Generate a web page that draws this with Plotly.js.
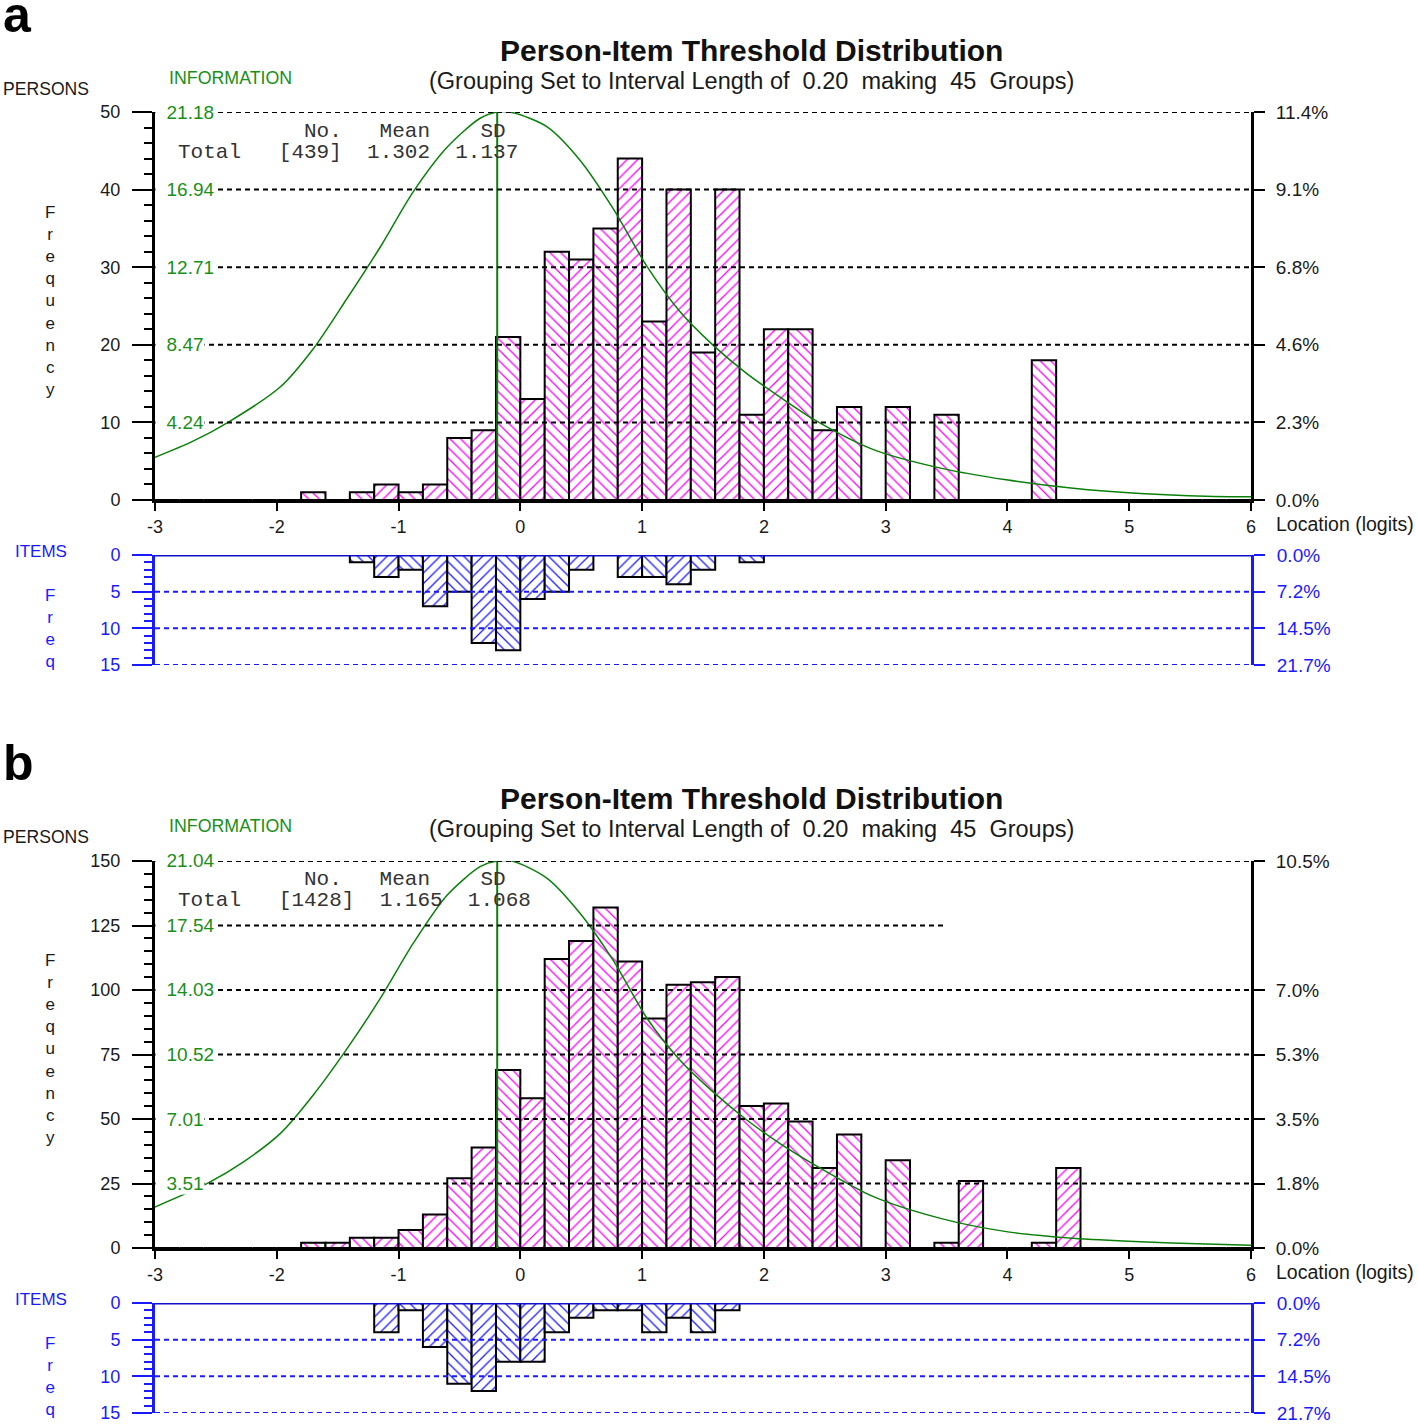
<!DOCTYPE html>
<html><head><meta charset="utf-8">
<script src="https://cdn.plot.ly/plotly-3.0.1.min.js"></script>
<style>body{margin:0;background:#fff}#chart{width:1418px;height:1425px}</style>
</head><body><div id="chart"></div>
<script>
// ---------------- DATA ----------------
const bins = [-3.0,-2.8,-2.6,-2.4,-2.2,-2.0,-1.8,-1.6,-1.4,-1.2,-1.0,-0.8,-0.6,-0.4,-0.2,0.0,0.2,0.4,0.6,0.8,1.0,1.2,1.4,1.6,1.8,2.0,2.2,2.4,2.6,2.8,3.0,3.2,3.4,3.6,3.8,4.0,4.2,4.4,4.6,4.8,5.0,5.2,5.4,5.6,5.8];
const xTicks = [-3,-2,-1,0,1,2,3,4,5,6];

// panel a
const personsA = [0,0,0,0,0,0,1,0,1,2, 1,2,8,9,21,13,32,31,35,44, 23,40,19,40,11,22,22,9,12,0, 12,0,11,0,0,0,18,0,0,0, 0,0,0,0,0];
const itemsA   = [0,0,0,0,0,0,0,0,1,3, 2,7,5,12,13,6,5,2,0,3, 3,4,2,0,1,0,0,0,0,0, 0,0,0,0,0,0,0,0,0,0, 0,0,0,0,0];
const infoXA = [-3.0,-2.7,-2.4,-1.97,-1.7,-1.43,-1.15,-0.88,-0.6,-0.33,-0.19,-0.06,0.22,0.49,0.76,1.04,1.31,1.58,1.86,2.13,2.42,2.9,3.45,3.99,4.54,5.09,5.63,6.0];
const infoYA = [2.33,3.17,4.24,6.18,8.26,10.93,13.81,16.82,19.27,20.84,21.18,21.14,20.37,18.55,15.93,12.75,10.29,8.47,6.90,5.63,4.36,2.75,1.74,1.10,0.64,0.36,0.21,0.18];
const infoMaxA = 21.18;
const infoPeakXA = -0.19;
const personsTicksA = [0,10,20,30,40,50];
const infoLabelsA = ['4.24','8.47','12.71','16.94','21.18'];
const infoLabelAtA = [10,20,30,40,50];
const pctTicksA = [0,10,20,30,40,50];
const meanA = '1.302', sdA = '1.137';

// panel b
const personsB = [0,0,0,0,0,0,2,2,4,4, 7,13,27,39,69,58,112,119,132,111, 89,102,103,105,55,56,49,31,44,0, 34,0,2,26,0,0,2,31,0,0, 0,0,0,0,0];
const itemsB   = [0,0,0,0,0,0,0,0,0,4, 1,6,11,12,8,8,4,2,1,1, 4,2,4,1,0,0,0,0,0,0, 0,0,0,0,0,0,0,0,0,0, 0,0,0,0,0];
const infoXB = [-3.0,-2.57,-2.27,-1.97,-1.7,-1.43,-1.15,-0.88,-0.6,-0.33,-0.19,-0.06,0.22,0.49,0.76,1.04,1.31,1.58,1.86,2.13,2.42,2.9,3.45,3.99,4.54,5.09,5.63,6.0];
const infoYB = [2.23,3.51,4.7,6.23,8.32,10.77,13.57,16.56,19.19,20.73,21.04,21.02,20.1,18.2,15.66,12.49,10.22,8.5,6.96,5.69,4.51,2.79,1.61,0.89,0.53,0.34,0.22,0.15];
const infoMaxB = 21.04;
const infoPeakXB = -0.19;
const personsTicksB = [0,25,50,75,100,125,150];
const infoLabelsB = ['3.51','7.01','10.52','14.03','17.54','21.04'];
const infoLabelAtB = [25,50,75,100,125,150];
const pctTicksB = [0,25,50,75,100,150];
const meanB = '1.165', sdB = '1.068';

const itemTicks = [0,5,10,15];

// ---------------- STYLE / LAYOUT ----------------
const W = 1418, H = 1425;
const F = '"Liberation Sans", Arial, sans-serif';
const MONO = '"Liberation Mono", "Courier New", monospace';
const BLUE = '#1a1aff', GREEN = '#0a800a', GREENT = '#1a8f1a', MAG = '#ff00ff', TXT = '#1a1a1a';
const X_DOM = [155/W, 1251/W];
const yd = (top, bot) => [1 - bot/H, 1 - top/H];
const sum = a => a.reduce((s, v) => s + v, 0);
const hatch = bins.map((_, i) => (i % 2 ? '/' : '\\'));
const axKey = id => (id[0] === 'x' ? 'xaxis' : 'yaxis') + id.slice(1);
const nb = n => '\u00a0'.repeat(n);
const DASH = '5px,4px';

const traces = [], shapes = [], annotations = [];
const layout = {
  width: W, height: H, margin: {l:0, r:0, t:0, b:0},
  paper_bgcolor: 'white', plot_bgcolor: 'white', showlegend: false,
  barmode: 'overlay', bargap: 0, hovermode: false
};

function paperAnn(text, x, y, font, extra) {
  return Object.assign({text, xref:'paper', yref:'paper', x: x/W, y: 1 - y/H,
    xanchor:'left', yanchor:'middle', showarrow:false, font}, extra || {});
}

function panel(p) {
  const id = p.ids;
  const N = sum(p.persons), NI = sum(p.items);
  traces.push({type:'bar', x: bins, y: p.persons, width: 0.2, offset: 0,
    xaxis: id.xp, yaxis: id.yp,
    marker: {color:'white', line:{color:'black', width:2},
      pattern:{shape: hatch, fgcolor: MAG, bgcolor:'white', size: 7.5, solidity: 0.17}}});
  traces.push({type:'scatter', mode:'lines', x: p.infoX, y: p.infoY, xaxis: id.xp, yaxis: id.yinfo,
    line:{color: GREEN, width: 1.5, shape:'spline', smoothing: 0.8}});
  traces.push({type:'scatter', mode:'lines', x:[p.peakX, p.peakX], y:[0, p.infoMax], xaxis: id.xp, yaxis: id.yinfo,
    line:{color: GREEN, width: 2}});
  traces.push({type:'scatter', mode:'lines', x:[null], y:[null], xaxis: id.xp, yaxis: id.ypct});
  traces.push({type:'bar', x: bins, y: p.items, width: 0.2, offset: 0,
    xaxis: id.xi, yaxis: id.yi,
    marker: {color:'white', line:{color:'black', width:2},
      pattern:{shape: hatch, fgcolor: BLUE, bgcolor:'white', size: 7.5, solidity: 0.17}}});
  traces.push({type:'scatter', mode:'lines', x:[null], y:[null], xaxis: id.xi, yaxis: id.yipct});

  const persDom = yd(p.persTop, p.persBot), itemDom = yd(p.itemTop, p.itemBot);
  const pmax = p.personsTicks[p.personsTicks.length - 1];
  layout[axKey(id.xp)] = {domain: X_DOM, anchor: id.yp, range:[-3, 6], tickmode:'array',
    tickvals: xTicks, ticktext: xTicks.map(String), ticks:'outside', ticklen: 8, tickwidth: 2, tickcolor:'black',
    showline: true, linewidth: 3, linecolor:'black', showgrid:false, zeroline:false,
    tickfont:{family:F, size:18, color:TXT}, ticklabelstandoff: 0, fixedrange:true};
  layout[axKey(id.yp)] = {domain: persDom, anchor: id.xp, range:[0, pmax], tickmode:'array',
    tickvals: p.personsTicks, ticks:'outside', ticklen: 20, tickwidth: 2, tickcolor:'black',
    minor:{dtick: p.minorDtick, tick0: 0, ticks:'outside', ticklen: 8, tickwidth: 2, tickcolor:'black', showgrid:false},
    showline:true, linewidth: 3, linecolor:'black', showgrid:false, zeroline:false,
    tickfont:{family:F, size:18, color:TXT}, ticklabelstandoff: 8, fixedrange:true};
  layout[axKey(id.yinfo)] = {overlaying: id.yp, range:[0, p.infoMax], visible:false, fixedrange:true};
  layout[axKey(id.ypct)] = {overlaying: id.yp, side:'right', anchor: id.xp, range:[0, pmax], tickmode:'array',
    tickvals: p.pctTicks, ticktext: p.pctTicks.map(v => (v / N * 100).toFixed(1) + '%'),
    ticks:'outside', ticklen: 11, tickwidth: 2, tickcolor:'black',
    showline:true, linewidth: 3, linecolor:'black', showgrid:false, zeroline:false,
    tickfont:{family:F, size:19, color:TXT}, ticklabelstandoff: 7, fixedrange:true};
  layout[axKey(id.xi)] = {domain: X_DOM, anchor: id.yi, range:[-3, 6], visible:false, fixedrange:true};
  layout[axKey(id.yi)] = {domain: itemDom, anchor: id.xi, range:[15, 0], tickmode:'array',
    tickvals: itemTicks, ticks:'outside', ticklen: 20, tickwidth: 2, tickcolor: BLUE,
    minor:{dtick: 1, tick0: 0, ticks:'outside', ticklen: 8, tickwidth: 2, tickcolor: BLUE, showgrid:false},
    showline:true, linewidth: 3, linecolor: BLUE, showgrid:false, zeroline:false,
    tickfont:{family:F, size:18, color: BLUE}, ticklabelstandoff: 8, fixedrange:true};
  layout[axKey(id.yipct)] = {overlaying: id.yi, side:'right', anchor: id.xi, range:[15, 0], tickmode:'array',
    tickvals: itemTicks, ticktext: itemTicks.map(v => (v / NI * 100).toFixed(1) + '%'),
    ticks:'outside', ticklen: 11, tickwidth: 2, tickcolor: BLUE,
    showline:true, linewidth: 3, linecolor: BLUE, showgrid:false, zeroline:false,
    tickfont:{family:F, size:19, color: BLUE}, ticklabelstandoff: 8, fixedrange:true};

  p.personsTicks.forEach(v => {
    if (v === 0) return;
    const end = (p.shortGrid && p.shortGrid.v === v) ? p.shortGrid.end : 1;
    shapes.push({type:'line', xref: id.xp + ' domain', yref: id.yp, x0: 0, x1: end, y0: v, y1: v,
      line:{color:'black', width: 2, dash: DASH}, layer:'above'});
  });
  itemTicks.forEach(v => {
    if (v === 0) return;
    shapes.push({type:'line', xref: id.xi + ' domain', yref: id.yi, x0: 0, x1: 1, y0: v, y1: v,
      line:{color: BLUE, width: 2, dash: DASH}, layer:'above'});
  });
  shapes.push({type:'line', xref: id.xi + ' domain', yref: id.yi, x0: 0, x1: 1, y0: 0, y1: 0,
    line:{color: '#1010c8', width: 3}, layer:'above'});

  p.infoLabelAt.forEach((v, i) => {
    annotations.push({text: nb(2) + p.infoLabels[i], xref: id.xp, yref: id.yp, x: -3, y: v,
      xanchor:'left', yanchor:'middle', showarrow:false, bgcolor:'white', borderpad: 0,
      font:{family:F, size:19, color: GREENT}});
  });

  const dy = p.dy;
  annotations.push(paperAnn('<b>' + p.letter + '</b>', 1, 15 + dy, {family:F, size:50, color:'black'}));
  annotations.push(paperAnn('<b>Person-Item Threshold Distribution</b>', 752, 50 + dy, {family:F, size:30, color:'#111'}, {xanchor:'center'}));
  annotations.push(paperAnn('(Grouping Set to Interval Length of' + nb(2) + '0.20' + nb(2) + 'making' + nb(2) + '45' + nb(2) + 'Groups)',
    752, 81 + dy, {family:F, size:23.5, color:TXT}, {xanchor:'center'}));
  annotations.push(paperAnn('PERSONS', 1, 89 + dy, {family:F, size:17.6, color:TXT}));
  annotations.push(paperAnn('INFORMATION', 167, 78 + dy, {family:F, size:17.8, color:GREENT}));
  annotations.push(paperAnn('F<br>r<br>e<br>q<br>u<br>e<br>n<br>c<br>y', 50, 301 + dy, {family:F, size:17, color:TXT}, {xanchor:'center'}));
  annotations.push(paperAnn('No.' + nb(3) + 'Mean' + nb(4) + 'SD', 302, 131 + dy, {family:MONO, size:21, color:'#333'}));
  annotations.push(paperAnn('Total' + nb(3) + '[' + N + ']' + nb(2) + p.mean + nb(2) + p.sd, 176, 152 + dy, {family:MONO, size:21, color:'#333'}));
  annotations.push(paperAnn('Location (logits)', 1274, 524 + dy, {family:F, size:19.5, color:TXT}));
  annotations.push(paperAnn('ITEMS', 13, 551 + dy, {family:F, size:17, color:BLUE}));
  annotations.push(paperAnn('F<br>r<br>e<br>q', 50, 628 + dy, {family:F, size:17, color:BLUE}, {xanchor:'center'}));
}

panel({persons: personsA, items: itemsA, infoX: infoXA, infoY: infoYA, infoMax: infoMaxA, peakX: infoPeakXA,
  personsTicks: personsTicksA, minorDtick: 2, infoLabels: infoLabelsA, infoLabelAt: infoLabelAtA, pctTicks: pctTicksA,
  shortGrid: null, mean: meanA, sd: sdA, letter:'a', dy: 0, persTop:112, persBot:500, itemTop:555, itemBot:665,
  ids:{xp:'x', xi:'x2', yp:'y', yinfo:'y2', ypct:'y3', yi:'y4', yipct:'y5'}});
panel({persons: personsB, items: itemsB, infoX: infoXB, infoY: infoYB, infoMax: infoMaxB, peakX: infoPeakXB,
  personsTicks: personsTicksB, minorDtick: 5, infoLabels: infoLabelsB, infoLabelAt: infoLabelAtB, pctTicks: pctTicksB,
  shortGrid: {v:125, end:(945-155)/1096}, mean: meanB, sd: sdB, letter:'b', dy: 748, persTop:861, persBot:1248, itemTop:1303, itemBot:1413,
  ids:{xp:'x3', xi:'x4', yp:'y6', yinfo:'y7', ypct:'y8', yi:'y9', yipct:'y10'}});

layout.shapes = shapes;
layout.annotations = annotations;
Plotly.newPlot('chart', traces, layout, {staticPlot: true, displayModeBar: false});
</script>
</body></html>
